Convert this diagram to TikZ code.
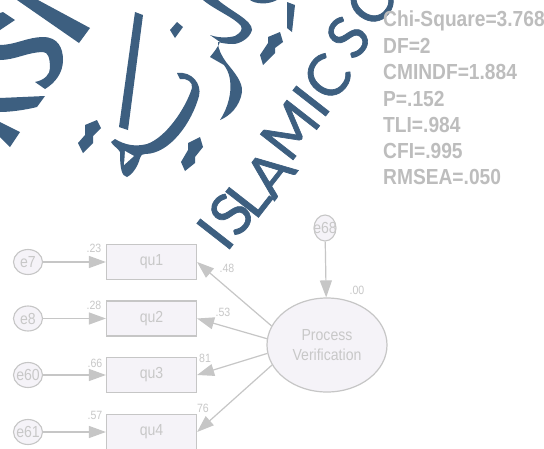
\documentclass[tikz,border=0pt]{standalone}
\usepackage{fontspec}
\setmainfont[FakeStretch=0.88]{Liberation Sans}
\newfontfamily\sealfont[FakeBold=1.2]{Lato}
\usetikzlibrary{shapes.geometric,arrows.meta,positioning,calc}
\definecolor{sealblue}{HTML}{3D5F80}
\definecolor{amosline}{HTML}{C6C6C6}
\definecolor{amostext}{HTML}{C8C8C8}
\definecolor{amosfill}{HTML}{F5F3F8}
\definecolor{fitgray}{HTML}{BDBDBD}

\begin{document}
\begin{tikzpicture}[x=1pt,y=-1pt,
      observed/.style={draw=amosline, line width=1.2pt, fill=amosfill, minimum width=90pt, minimum height=35pt, inner sep=0pt, text=amostext, font=\fontsize{16}{18}\selectfont},
      errorterm/.style={draw=amosline, line width=1.1pt, fill=amosfill, ellipse, minimum width=29pt, minimum height=25pt, inner sep=-4pt, text=amostext, font=\fontsize{16}{18}\selectfont},
      latent/.style={draw=amosline, line width=1.2pt, fill=amosfill, ellipse, minimum width=120pt, minimum height=94pt, inner sep=0pt, align=center, text=amostext, font=\fontsize{16}{19.5}\selectfont},
      estimate/.style={inner sep=0pt, text=amostext, font=\fontsize{12}{14}\selectfont},
      fitline/.style={inner sep=0pt, anchor=west, text=fitgray, font=\bfseries\fontsize{21.8}{24}\selectfont},
      sealletter/.style={inner sep=0pt, text=sealblue, rotate=52, font=\sealfont\fontsize{58}{60}\selectfont},
      sealstroke/.style={fill=sealblue, draw=none},
      arrowstyle/.style={-{Stealth[length=17pt,width=12pt,inset=0pt]}, draw=amosline, line width=1.2pt}
    ]
    \useasboundingbox (0,0) rectangle (544,448);
    \clip (0,0) rectangle (544,448);
    \fill[white] (0,0) rectangle (544,448);

    \foreach \ch/\px/\py [count=\i] in {I/215/234, S/231/214, L/248/197, A/270/173, M/290/130, I/311/101, C/327/77, S/348/37, C/370/3}
      \node[sealletter] (seal\i) at (\px,\py) {\ch};

    \fill[sealstroke] (17,0) -- (38,0) -- (90,28) -- (79,43) -- cycle;
    \fill[sealstroke] (0,45) .. controls (15,45) and (28,37) .. (43,37) .. controls (58,37) and (63,48) .. (63,60) .. controls (63,73) and (55,83) .. (45,89) -- (35,82) .. controls (45,80) and (50,74) .. (50,68) .. controls (50,58) and (48,52) .. (43,52) .. controls (28,52) and (15,60) .. (0,60) -- cycle;
    \fill[sealstroke] (0,13) -- (3,12) -- (15,20) -- (0,30) -- cycle;
    \fill[sealstroke] (0,98) -- (45,96) -- (37,107) .. controls (25,110) and (10,112) .. (0,112) -- cycle;
    \fill[sealstroke] (0,122) -- (20,132) -- (10,147) -- (0,137) -- cycle;

    \fill[sealstroke] (135,12) -- (143,15) -- (128,130) -- (119,127) -- cycle;
    \fill[sealstroke] (170,30) -- (177,22) -- (183,27) -- (175,38) -- cycle;
    \fill[sealstroke] (78,143) -- (85,135) -- (85,125) -- (97,120) -- (101,128) -- (93,136) -- (93,143) -- (83,153) -- cycle;
    \fill[sealstroke] (181,162) -- (188,150) -- (188,143) -- (200,137) -- (203,147) -- (195,157) -- (195,163) -- (185,171) -- cycle;
    \fill[sealstroke] (177,73) .. controls (192,71) and (202,84) .. (199,96) .. controls (192,122) and (170,154) .. (145,154) .. controls (142,154) and (141,155) .. (140,158) .. controls (138,166) and (133,174) .. (127,177) .. controls (122,176) and (120,170) .. (120,152) .. controls (118,148) and (113,146) .. (111,142) -- (115,139) .. controls (125,145) and (135,147) .. (147,144) .. controls (165,138) and (185,110) .. (192,88) .. controls (193,82) and (187,78) .. (180,79) -- cycle;
    \fill[white] (125,151) -- (124,165) -- (134,156) -- cycle;
    \fill[sealstroke] (203,0) -- (218,0) .. controls (232,12) and (252,20) .. (252,30) .. controls (250,38) and (240,44) .. (233,44) .. controls (226,44) and (222,43) .. (218,42) .. controls (218,50) and (222,56) .. (226,62) .. controls (234,72) and (243,82) .. (242,92) .. controls (240,106) and (230,116) .. (220,120) .. controls (228,108) and (232,92) .. (230,80) .. controls (229,72) and (226,68) .. (224,65) -- (210,57) .. controls (214,52) and (218,47) .. (220,42) -- (210,35) .. controls (218,38) and (228,38) .. (235,36) .. controls (240,33) and (243,30) .. (241,26) .. controls (235,18) and (215,10) .. (203,0) -- cycle;
    \fill[sealstroke] (250,0) .. controls (255,4) and (268,5) .. (277,0) -- cycle;
    \fill[sealstroke] (287,2) -- (295,5) -- (292,32) -- (287,28) -- cycle;
    \fill[sealstroke] (260,55) -- (268,43) -- (268,37) -- (280,32) -- (283,42) -- (275,48) -- (275,53) -- (263,65) -- cycle;

    \node[fitline] (chisq) at (383,21) {Chi-Square=3.768};
    \node[fitline] (df) at (383,46) {DF=2};
    \node[fitline] (cmindf) at (383,72) {CMINDF=1.884};
    \node[fitline] (pval) at (383,99) {P=.152};
    \node[fitline] (tli) at (383,125) {TLI=.984};
    \node[fitline] (cfi) at (383,151) {CFI=.995};
    \node[fitline] (rmsea) at (383,177) {RMSEA=.050};

    \node[observed] (qu1) at (151.5,262) {qu1};
    \node[observed] (qu2) at (151.5,318.5) {qu2};
    \node[observed] (qu3) at (151.5,375) {qu3};
    \node[observed] (qu4) at (151.5,432) {qu4};

    \node[errorterm] (e7) at (28,262) {e7};
    \node[errorterm] (e8) at (28,318.5) {e8};
    \node[errorterm] (e60) at (28,375) {e60};
    \node[errorterm] (e61) at (28,432) {e61};
    \node[errorterm, minimum width=22pt, minimum height=26pt] (e68) at (325,228) {e68};
    \node[latent] (verif) at (327,345) {Process\\Verification};

    \draw[arrowstyle] (e7) -- (qu1);
    \draw[arrowstyle] (e8) -- (qu2);
    \draw[arrowstyle] (e60) -- (qu3);
    \draw[arrowstyle] (e61) -- (qu4);
    \draw[arrowstyle] (e68) -- (verif);
    \draw[arrowstyle] (verif.161) -- (qu1.east);
    \draw[arrowstyle] (verif.174) -- (qu2.east);
    \draw[arrowstyle] (verif.188) -- (qu3.east);
    \draw[arrowstyle] (verif.200) -- (qu4.east);

    \node[estimate] (r1) at (94,248) {.23};
    \node[estimate] (r2) at (94,305) {.28};
    \node[estimate] (r3) at (95,363) {.66};
    \node[estimate] (r4) at (95,415) {.57};
    \node[estimate] (l1) at (227,268) {.48};
    \node[estimate] (l2) at (223,312) {.53};
    \node[estimate] (l3) at (205,358) {81};
    \node[estimate] (l4) at (203,408) {76};
    \node[estimate] (r5) at (357,290) {.00};
  \end{tikzpicture}
\end{document}
